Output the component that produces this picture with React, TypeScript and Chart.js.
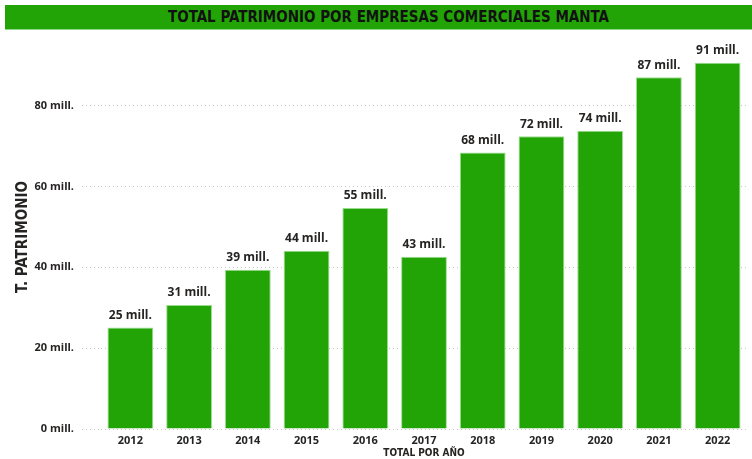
import React, { useEffect, useRef } from "react";
import { Chart, registerables } from "chart.js";

Chart.register(...registerables);

const chartTitle = "TOTAL PATRIMONIO POR EMPRESAS COMERCIALES MANTA";
const years = ["2012", "2013", "2014", "2015", "2016", "2017", "2018", "2019", "2020", "2021", "2022"];
const patrimonio = [25.1, 30.7, 39.4, 44.1, 54.7, 42.6, 68.4, 72.4, 73.8, 87.0, 90.6];
const yTicks = [0, 20, 40, 60, 80];
const yTitle = "T. PATRIMONIO";
const xTitle = "TOTAL POR AÑO";
const unit = " mill.";

const GREEN = "#22A406";
const TEXT = "#252423";
const NARROW = "'Liberation Sans Narrow', 'DejaVu Sans Condensed', sans-serif";
const SANS = "'Open Sans', 'Noto Sans', sans-serif";

const labelPlugin = {
  id: "barLabels",
  afterDatasetsDraw(chart: any) {
    const ctx = chart.ctx;
    const meta = chart.getDatasetMeta(0);
    ctx.save();
    ctx.font = `bold 12px ${SANS}`;
    ctx.fillStyle = TEXT;
    ctx.textAlign = "center";
    ctx.textBaseline = "bottom";
    meta.data.forEach((bar: any, i: number) => {
      const v = chart.data.datasets[0].data[i];
      ctx.fillText(`${Math.round(v)}${unit}`, bar.x, bar.y - 6);
    });
    ctx.restore();
  },
};

export default function App() {
  const ref = useRef<HTMLCanvasElement>(null);
  useEffect(() => {
    if (!ref.current) return;
    const chart = new Chart(ref.current, {
      type: "bar",
      data: {
        labels: years,
        datasets: [
          {
            data: patrimonio,
            backgroundColor: GREEN,
            borderColor: "#9BDD8F",
            borderWidth: 1,
            barPercentage: 0.78,
            categoryPercentage: 1,
          },
        ],
      },
      options: {
        responsive: false,
        animation: false,
        layout: { padding: { left: 10, right: 5, top: 45, bottom: 0 } },
        plugins: {
          legend: { display: false },
          tooltip: { enabled: false },
        },
        scales: {
          x: {
            grid: { display: false, drawTicks: false },
            border: { display: false },
            afterFit: (scale: any) => {
              scale.height = 30;
            },
            ticks: { color: TEXT, font: { family: SANS, size: 11, weight: "bold" }, padding: 5 },
            title: {
              display: true,
              text: xTitle,
              color: TEXT,
              font: { family: NARROW, size: 10, weight: "bold" },
              padding: { top: 0, bottom: 0 },
            },
          },
          y: {
            min: 0,
            max: 95,
            afterBuildTicks: (scale: any) => {
              scale.ticks = yTicks.map((v) => ({ value: v }));
            },
            afterFit: (scale: any) => {
              scale.width = 91;
            },
            grid: {
              color: "#C8C6C4",
              drawTicks: true,
              tickLength: 19,
              tickColor: "#C8C6C4",
              tickBorderDash: [1, 3],
            },
            border: { display: false, dash: [1, 3] },
            ticks: {
              color: TEXT,
              font: { family: SANS, size: 11, weight: "bold" },
              padding: 8,
              callback: (v: any) => `${v}${unit}`,
            },
            title: {
              display: true,
              text: yTitle,
              color: TEXT,
              font: { family: NARROW, size: 15, weight: "bold" },
            },
          },
        },
      },
      plugins: [labelPlugin],
    });
    return () => chart.destroy();
  }, []);

  return (
    <div style={{ position: "fixed", left: 0, top: 0, width: 752, height: 459, background: "#fff", overflow: "hidden" }}>
      <div
        style={{
          position: "absolute",
          left: 5,
          top: 5,
          width: 747,
          height: 25,
          background: GREEN,
          borderBottom: "1px solid #8FD88A",
          display: "flex",
          alignItems: "center",
          justifyContent: "center",
          paddingLeft: 20,
          boxSizing: "border-box",
          fontFamily: NARROW,
          fontWeight: "bold",
          fontSize: 15,
          color: "#111",
        }}
      >
        {chartTitle}
      </div>
      <canvas ref={ref} width={752} height={459} style={{ position: "absolute", left: 0, top: 0 }} />
    </div>
  );
}
